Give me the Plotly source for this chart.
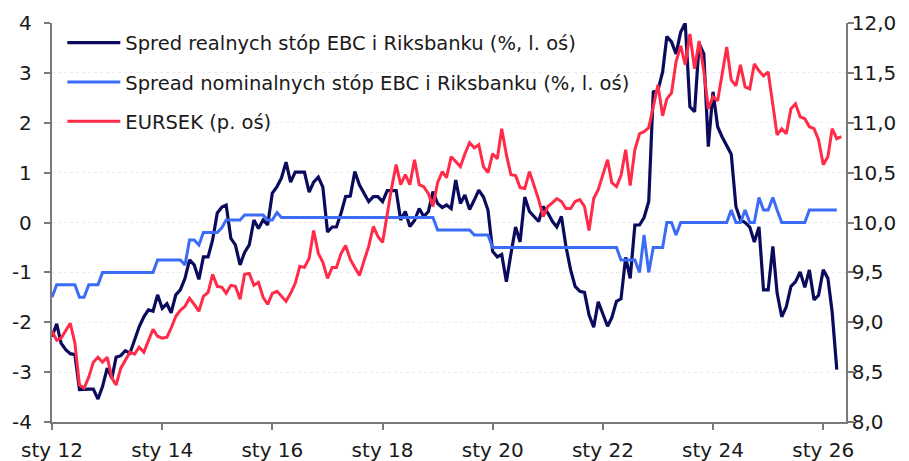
import plotly.graph_objects as go
import pandas as pd

# Spread of real rates ECB - Riksbank (%, left axis), monthly from Jan 2012
real_spread = [
    -2.29, -2.03, -2.42, -2.55, -2.63, -2.65, -3.35, -3.34, -3.34, -3.34, -3.54, -3.29,
    -2.92, -3.12, -2.70, -2.67, -2.57, -2.62, -2.34, -2.09, -1.89, -1.75, -1.78, -1.45,
    -1.72, -1.63, -1.81, -1.45, -1.35, -1.12, -0.75, -0.85, -1.14, -0.69, -0.69, -0.35,
    0.19, 0.31, 0.35, -0.32, -0.45, -0.85, -0.60, -0.45, 0.05, -0.12, 0.05, -0.05,
    0.59, 0.72, 0.89, 1.21, 0.81, 1.01, 1.01, 1.01, 0.61, 0.81, 0.91, 0.71,
    -0.19, -0.09, -0.09, 0.19, 0.52, 0.53, 1.02, 0.75, 0.58, 0.42, 0.52, 0.52,
    0.42, 0.64, 0.64, 0.64, 0.05, 0.22, -0.08, 0.04, 0.28, 0.12, 0.22, 0.62,
    0.38, 0.30, 0.35, 0.28, 0.85, 0.38, 0.55, 0.26, 0.45, 0.65, 0.51, 0.25,
    -0.58, -0.69, -0.64, -1.19, -0.63, -0.09, -0.39, 0.51, 0.22, 0.12, 0.02, 0.32,
    0.19, 0.02, -0.09, 0.12, -0.48, -0.95, -1.28, -1.38, -1.40, -1.85, -2.10, -1.59,
    -1.85, -2.08, -1.91, -1.58, -1.53, -0.70, -1.12, -0.05, -0.05, 0.10, 0.42, 2.62,
    2.65, 3.02, 3.73, 3.62, 3.38, 3.82, 4.00, 2.32, 2.22, 3.59, 3.38, 1.52,
    2.62, 1.92, 1.72, 1.55, 1.37, 0.32, 0.05, 0.00, -0.09, -0.39, -0.09, -1.35,
    -1.35, -0.48, -1.41, -1.89, -1.69, -1.28, -1.19, -0.99, -1.30, -0.95, -1.55, -1.46,
    -0.95, -1.12, -1.79, -2.95,
]

# Spread of nominal rates ECB - Riksbank (%, left axis), monthly from Jan 2012
nominal_spread = [
    -1.50, -1.25, -1.25, -1.25, -1.25, -1.25, -1.50, -1.50, -1.25, -1.25, -1.25, -1.00,
    -1.00, -1.00, -1.00, -1.00, -1.00, -1.00, -1.00, -1.00, -1.00, -1.00, -1.00, -0.75,
    -0.75, -0.75, -0.75, -0.75, -0.75, -0.85, -0.35, -0.35, -0.45, -0.20, -0.20, -0.20,
    -0.20, -0.10, 0.05, 0.05, 0.05, 0.05, 0.15, 0.15, 0.15, 0.15, 0.15, 0.05,
    0.05, 0.20, 0.10, 0.10, 0.10, 0.10, 0.10, 0.10, 0.10, 0.10, 0.10, 0.10,
    0.10, 0.10, 0.10, 0.10, 0.10, 0.10, 0.10, 0.10, 0.10, 0.10, 0.10, 0.10,
    0.10, 0.10, 0.10, 0.10, 0.10, 0.10, 0.10, 0.10, 0.10, 0.10, 0.10, 0.10,
    -0.15, -0.15, -0.15, -0.15, -0.15, -0.15, -0.15, -0.15, -0.25, -0.25, -0.25, -0.25,
    -0.50, -0.50, -0.50, -0.50, -0.50, -0.50, -0.50, -0.50, -0.50, -0.50, -0.50, -0.50,
    -0.50, -0.50, -0.50, -0.50, -0.50, -0.50, -0.50, -0.50, -0.50, -0.50, -0.50, -0.50,
    -0.50, -0.50, -0.50, -0.50, -0.75, -0.75, -0.75, -0.75, -1.00, -0.25, -1.00, -0.50,
    -0.50, -0.50, 0.00, 0.00, -0.25, 0.00, 0.00, 0.00, 0.00, 0.00, 0.00, 0.00,
    0.00, 0.00, 0.00, 0.00, 0.25, 0.00, 0.00, 0.25, 0.00, 0.00, 0.50, 0.25,
    0.25, 0.50, 0.25, 0.00, 0.00, 0.00, 0.00, 0.00, 0.00, 0.25, 0.25, 0.25,
    0.25, 0.25, 0.25, 0.25,
]

# EURSEK (right axis), monthly from Jan 2012
eursek = [
    8.91, 8.82, 8.84, 8.92, 8.99, 8.79, 8.37, 8.34, 8.45, 8.60, 8.65, 8.60,
    8.65, 8.44, 8.37, 8.54, 8.62, 8.70, 8.68, 8.75, 8.70, 8.82, 8.93, 8.86,
    8.84, 8.85, 8.94, 9.06, 9.12, 9.16, 9.24, 9.18, 9.11, 9.26, 9.30, 9.48,
    9.36, 9.35, 9.29, 9.37, 9.36, 9.23, 9.48, 9.49, 9.37, 9.40, 9.25, 9.18,
    9.29, 9.31, 9.26, 9.21, 9.29, 9.39, 9.56, 9.55, 9.64, 9.92, 9.69, 9.60,
    9.44, 9.55, 9.55, 9.69, 9.77, 9.63, 9.55, 9.47, 9.62, 9.76, 9.96, 9.86,
    9.80, 10.10, 10.34, 10.58, 10.38, 10.48, 10.38, 10.63, 10.38, 10.36, 10.29, 10.16,
    10.40, 10.51, 10.45, 10.66, 10.61, 10.56, 10.69, 10.80, 10.75, 10.78, 10.56, 10.50,
    10.69, 10.64, 10.94, 10.68, 10.48, 10.47, 10.35, 10.34, 10.51, 10.38, 10.23, 10.06,
    10.16, 10.20, 10.24, 10.21, 10.14, 10.14, 10.21, 10.23, 10.16, 9.92, 10.24, 10.33,
    10.47, 10.63, 10.40, 10.36, 10.47, 10.73, 10.37, 10.73, 10.89, 10.91, 10.95, 11.17,
    11.38, 11.07, 11.24, 11.30, 11.61, 11.77, 11.58, 11.89, 11.54, 11.82, 11.52, 11.14,
    11.26, 11.22, 11.49, 11.76, 11.43, 11.37, 11.58, 11.36, 11.34, 11.59, 11.52, 11.47,
    11.51, 11.16, 10.88, 10.94, 10.89, 11.14, 11.19, 11.06, 11.04, 10.96, 10.94, 10.83,
    10.58, 10.66, 10.94, 10.84, 10.86,
]

x_tick_dates = ["2012-01-01", "2014-01-01", "2016-01-01", "2018-01-01",
                "2020-01-01", "2022-01-01", "2024-01-01", "2026-01-01"]
x_tick_labels = ["sty 12", "sty 14", "sty 16", "sty 18", "sty 20", "sty 22", "sty 24", "sty 26"]
left_ticks = [-4, -3, -2, -1, 0, 1, 2, 3, 4]
left_labels = ["-4", "-3", "-2", "-1", "0", "1", "2", "3", "4"]
right_ticks = [8.0, 8.5, 9.0, 9.5, 10.0, 10.5, 11.0, 11.5, 12.0]
right_labels = ["8,0", "8,5", "9,0", "9,5", "10,0", "10,5", "11,0", "11,5", "12,0"]

names = [
    "Spred realnych stóp EBC i Riksbanku (%, l. oś)",
    "Spread nominalnych stóp EBC i Riksbanku (%, l. oś)",
    "EURSEK (p. oś)",
]

d_real = pd.date_range("2012-01-01", periods=len(real_spread), freq="MS")
d_nom = pd.date_range("2012-01-01", periods=len(nominal_spread), freq="MS")
d_fx = pd.date_range("2012-01-01", periods=len(eursek), freq="MS")

NAVY = "#0b0b5e"
BLUE = "#3b6cf5"
RED = "#ff2b48"
AX = "#7a7a7a"
TXT = "#1a1a1a"
FONT = "DejaVu Sans"

fig = go.Figure()
fig.add_trace(go.Scatter(x=d_real, y=real_spread, name=names[0], mode="lines",
                         line=dict(color=NAVY, width=3.2), legendgroup="g1"))
fig.add_trace(go.Scatter(x=d_nom, y=nominal_spread, name=names[1], mode="lines",
                         line=dict(color=BLUE, width=3), legendgroup="g2"))
fig.add_trace(go.Scatter(x=d_fx, y=eursek, name=names[2], mode="lines",
                         line=dict(color=RED, width=3), legendgroup="g3", yaxis="y2"))

tick_font = dict(family=FONT, size=20, color=TXT)

# left-axis tick labels, positioned on the left axis scale
for v, lab in zip(left_ticks, left_labels):
    fig.add_annotation(x=0, xref="paper", y=v, yref="y", text=lab, showarrow=False,
                       xanchor="right", yanchor="middle", xshift=-18, font=tick_font)

fig.update_layout(
    width=909, height=461, autosize=False,
    margin=dict(l=52, r=63, t=23, b=39, autoexpand=False),
    paper_bgcolor="white", plot_bgcolor="white",
    font=dict(family=FONT, size=19, color=TXT),
    showlegend=True,
    legend=dict(x=0.013, y=0.999, xanchor="left", yanchor="top",
                bgcolor="rgba(255,255,255,0)", borderwidth=0,
                font=dict(family=FONT, size=19.5, color=TXT),
                itemwidth=53, traceorder="grouped", tracegroupgap=11),
    xaxis=dict(type="date", range=["2012-01-01", "2026-06-01"],
               tickvals=x_tick_dates, ticktext=x_tick_labels,
               ticks="outside", ticklen=6, tickcolor=AX, tickwidth=1.5,
               showline=True, linecolor=AX, linewidth=1.5,
               showgrid=False, zeroline=False, automargin=False,
               ticklabelstandoff=3, tickfont=tick_font),
    yaxis=dict(range=[-4, 4], tickvals=left_ticks, showticklabels=False,
               ticks="outside", ticklen=6, tickcolor=AX, tickwidth=1.5,
               showline=True, linecolor=AX, linewidth=1.5,
               showgrid=True, gridcolor="#ebebeb", griddash="dot", gridwidth=1,
               zeroline=False, automargin=False),
    yaxis2=dict(range=[8, 12], tickvals=right_ticks, ticktext=right_labels,
                overlaying="y", side="right",
                ticks="outside", ticklen=6, tickcolor=AX, tickwidth=1.5,
                showline=True, linecolor=AX, linewidth=1.5,
                showgrid=False, zeroline=False, automargin=False, ticklabelstandoff=-6,
                tickfont=tick_font),
)

fig.write_html("out.html", config={"displayModeBar": False},
               post_script="document.body.style.margin='0';")
